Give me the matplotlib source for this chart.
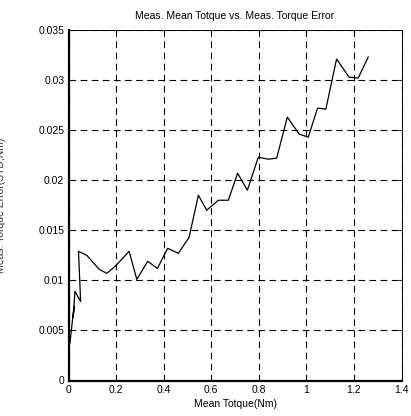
import matplotlib
matplotlib.use("Agg")
import matplotlib.pyplot as plt
from matplotlib import font_manager

names = {f.name for f in font_manager.fontManager.ttflist}
fam = ['Liberation Sans Narrow', 'Liberation Sans', 'DejaVu Sans'] if 'Liberation Sans Narrow' in names else ['Liberation Sans', 'DejaVu Sans']
plt.rcParams['font.family'] = fam

mean_torque = [0.003, 0.006, 0.012, 0.023, 0.020, 0.027, 0.051, 0.042, 0.077, 0.129,
               0.161, 0.196, 0.255, 0.287, 0.333, 0.374, 0.417, 0.462, 0.507, 0.546,
               0.581, 0.630, 0.672, 0.711, 0.752, 0.798, 0.840, 0.875, 0.920, 0.970,
               1.008, 1.047, 1.082, 1.127, 1.179, 1.218, 1.260]
torque_error = [0.0050, 0.0037, 0.0050, 0.0074, 0.0063, 0.0089, 0.0079, 0.0129, 0.0125, 0.0111,
                0.0107, 0.0114, 0.0129, 0.0101, 0.0119, 0.0112, 0.0132, 0.0127, 0.0143, 0.0185,
                0.0170, 0.0180, 0.0180, 0.0207, 0.0190, 0.0223, 0.0221, 0.0222, 0.0263, 0.0246,
                0.0243, 0.0272, 0.0271, 0.0321, 0.0303, 0.0302, 0.0323]

xticks = [0, 0.2, 0.4, 0.6, 0.8, 1, 1.2, 1.4]
xticklabels = ['0', '0.2', '0.4', '0.6', '0.8', '1', '1.2', '1.4']
yticks = [0, 0.005, 0.01, 0.015, 0.02, 0.025, 0.03, 0.035]
yticklabels = ['0', '0.005', '0.01', '0.015', '0.02', '0.025', '0.03', '0.035']

fig = plt.figure(figsize=(4.11, 4.16), dpi=100)
ax = fig.add_axes([68.5/411, 1 - 380.5/416, (401.5 - 68.5)/411, (380.5 - 30)/416])
ax.plot(mean_torque, torque_error, color='black', lw=0.9)
ax.set_xlim(0, 1.4)
ax.set_ylim(0, 0.035)
ax.set_xticks(xticks)
ax.set_xticklabels(xticklabels)
ax.set_yticks(yticks)
ax.set_yticklabels(yticklabels)
ax.grid(True, color='black', linestyle=(0, (6, 4)), lw=0.8)
ax.tick_params(direction='in', length=3, labelsize=7.5, width=0.6, pad=3,
               top=True, right=True)
for s in ['left', 'bottom']:
    ax.spines[s].set_linewidth(1.6)
for s in ['top', 'right']:
    ax.spines[s].set_linewidth(0.7)
ax.set_title('Meas. Mean Totque vs. Meas. Torque Error', fontsize=7.5, pad=8)
ax.set_xlabel('Mean Totque(Nm)', fontsize=7.5, labelpad=3)
fig.text(1/411, 0.5 + (416/2 - 205)/416, 'Meas. Torque Error(STD,Nm)', rotation=90,
         fontsize=7.5, ha='center', va='center', color='#333333')
fig.savefig('out.png', dpi=100)
